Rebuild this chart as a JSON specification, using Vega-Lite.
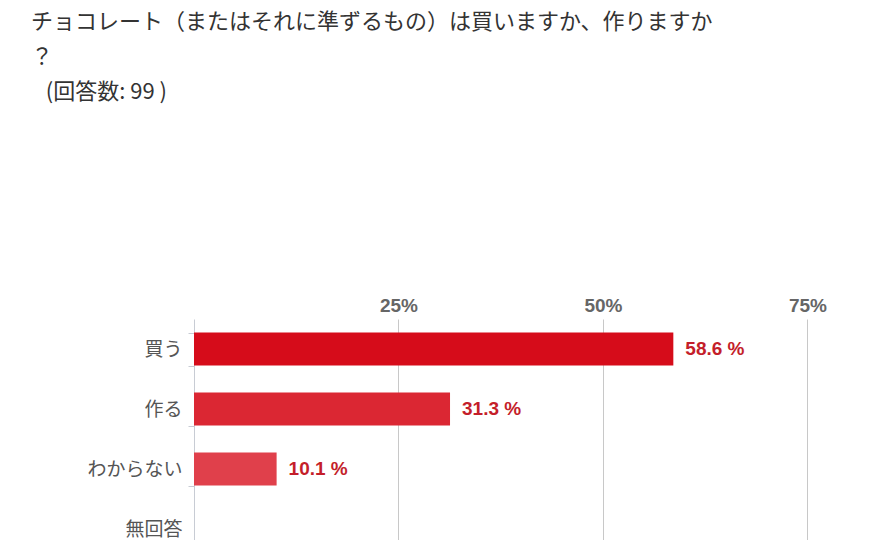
{
  "$schema": "https://vega.github.io/schema/vega-lite/v6.json",
  "width": 692,
  "height": 240,
  "autosize": {"type": "none"},
  "padding": {"left": 194, "top": 319, "right": 0, "bottom": 0},
  "background": "white",
  "title": {
    "text": ["チョコレート（またはそれに準ずるもの）は買いますか、作りますか", "？", "\u200b\u00a0\u00a0\u00a0(回答数: 99 )"],
    "anchor": "start",
    "frame": "group",
    "dx": -163,
    "offset": 192,
    "font": "Noto Sans CJK JP",
    "fontSize": 22,
    "fontWeight": "normal",
    "color": "#333333",
    "lineHeight": 35
  },
  "data": {
    "values": [
      {"answer": "買う", "pct": 58.6, "label": "58.6 %"},
      {"answer": "作る", "pct": 31.3, "label": "31.3 %"},
      {"answer": "わからない", "pct": 10.1, "label": "10.1 %"},
      {"answer": "無回答", "pct": 0, "label": ""}
    ]
  },
  "encoding": {
    "y": {
      "field": "answer",
      "type": "nominal",
      "sort": null,
      "scale": {"paddingInner": 0.45, "paddingOuter": 0.225},
      "axis": {
        "title": null,
        "domainColor": "#c8ccd4",
        "tickColor": "#c8ccd4",
        "tickBand": "extent",
        "tickSize": 6,
        "labelFont": "Noto Sans CJK JP",
        "labelFontSize": 19,
        "labelColor": "#555555",
        "labelPadding": 6
      }
    },
    "x": {
      "field": "pct",
      "type": "quantitative",
      "scale": {"domain": [0, 84.6], "nice": false},
      "axis": {
        "orient": "top",
        "title": null,
        "values": [25, 50, 75],
        "labelExpr": "datum.value + '%'",
        "labelFont": "Liberation Sans",
        "labelFontWeight": "bold",
        "labelFontSize": 19,
        "labelColor": "#666666",
        "labelPadding": 4,
        "domain": false,
        "ticks": false,
        "grid": true,
        "gridColor": "#c8c8c8"
      }
    }
  },
  "layer": [
    {
      "mark": {"type": "bar"},
      "encoding": {
        "color": {
          "field": "answer",
          "type": "nominal",
          "sort": null,
          "scale": {
            "domain": ["買う", "作る", "わからない", "無回答"],
            "range": ["#d60c1a", "#db2733", "#e0404b", "#e65a63"]
          },
          "legend": null
        }
      }
    },
    {
      "transform": [{"filter": "datum.pct > 0"}],
      "mark": {
        "type": "text",
        "align": "left",
        "dx": 12,
        "font": "Liberation Sans",
        "fontWeight": "bold",
        "fontSize": 19,
        "color": "#c41e2a"
      },
      "encoding": {
        "text": {"field": "label", "type": "nominal"}
      }
    }
  ],
  "config": {
    "view": {"stroke": null}
  }
}
